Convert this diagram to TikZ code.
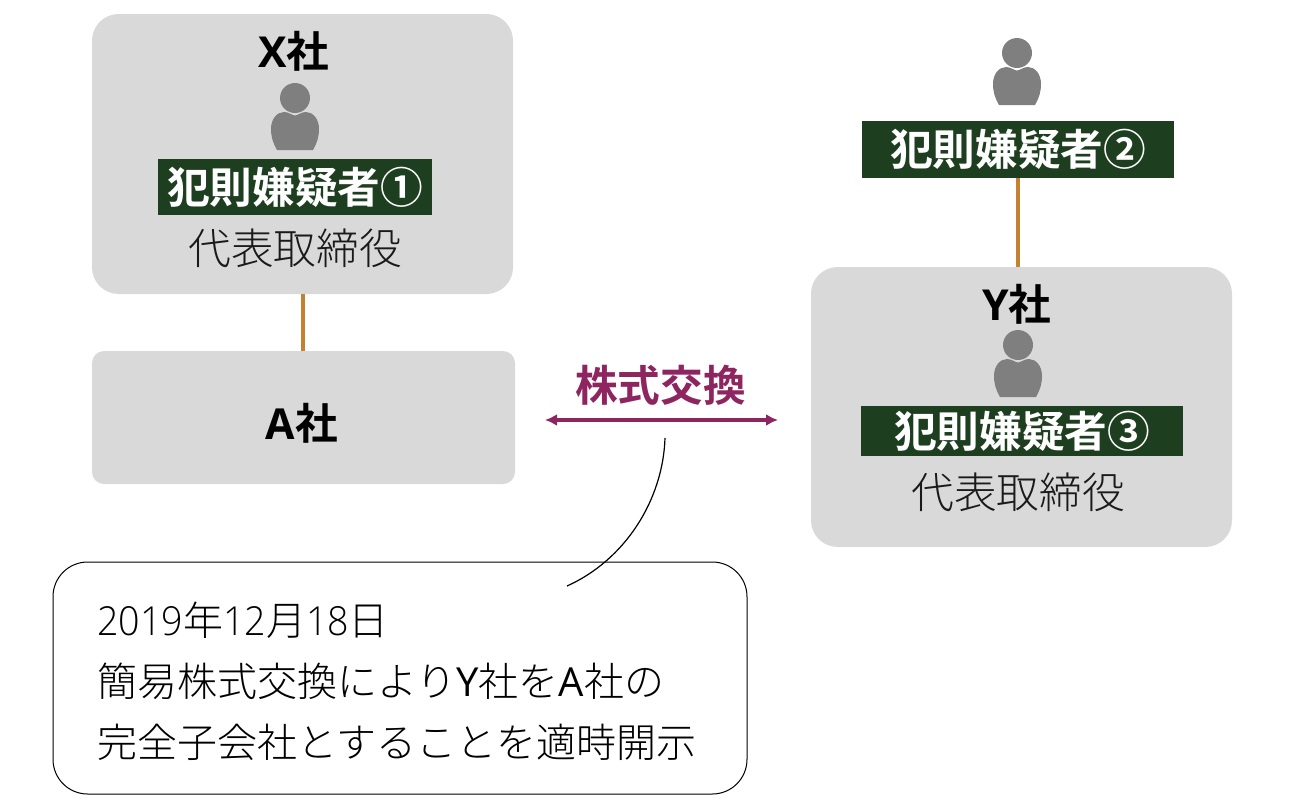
\documentclass[tikz,border=0pt]{standalone}
\usepackage{fontspec}
\setmainfont{Open Sans}
\newfontfamily\numfont[FakeStretch=0.94]{Open Sans Light}
\newfontfamily\jpfont[BoldFont={Noto Sans CJK JP Bold}]{Noto Sans CJK JP Light}
\usetikzlibrary{arrows.meta}
\definecolor{boxgray}{RGB}{217,217,217}
\definecolor{iconGray}{RGB}{127,127,127}
\definecolor{suspectGreen}{RGB}{30,62,32}
\definecolor{linkOrange}{RGB}{197,128,48}
\definecolor{swapPurple}{RGB}{143,37,96}
\definecolor{thinText}{RGB}{26,26,26}
\tikzset{
  graybox/.style={fill=boxgray,inner sep=0pt,outer sep=0pt,rounded corners=20pt,minimum width=315.75pt,minimum height=210pt},
  firmlabel/.style={inner sep=0pt,font=\bfseries\fontsize{32}{36}\selectfont,text=black},
  suspect/.style={fill=suspectGreen,text=white,inner sep=0pt,outer sep=0pt,font=\jpfont\bfseries\fontsize{32}{36}\selectfont},
  roletext/.style={inner sep=0pt,text=thinText,font=\jpfont\fontsize{32}{36}\selectfont},
  notetext/.style={inner sep=0pt,anchor=west,text=black,font=\numfont\fontsize{30}{36}\selectfont},
  orangelink/.style={draw=linkOrange,line width=3pt},
  personicon/.pic={
    \fill[iconGray] (0,1) circle [radius=15];
    \fill[iconGray] (-18,-51) -- (18,-51) .. controls (22,-44) and (24,-38) .. (24,-30) .. controls (24,-20) and (18,-13) .. (11,-13) .. controls (6,-13) and (3,-16.5) .. (0,-16.5) .. controls (-3,-16.5) and (-6,-13) .. (-11,-13) .. controls (-18,-13) and (-24,-20) .. (-24,-30) .. controls (-24,-38) and (-22,-44) .. (-18,-51) -- cycle;
  }
}
\begin{document}
\begin{tikzpicture}[x=0.75pt,y=0.75pt,yscale=-1,xscale=1]
  \useasboundingbox (0,0) rectangle (1300,800);
  % company boxes
  \node[graybox] (xbox) at (302.5,154) {};
  \node[graybox,rounded corners=9pt,minimum width=317.25pt,minimum height=99.75pt] (abox) at (303.5,417.5) {};
  \node[graybox] (ybox) at (1021.5,407) {};
  % links
  \draw[orangelink] (xbox.south) -- (xbox.south |- abox.north);
  % X side
  \node[firmlabel] (xname) at (294,51) {X{\jpfont 社}};
  \pic at (295,99) {personicon};
  \node[suspect,minimum width=205.5pt,minimum height=42pt] (suspecta) at (295,187) {犯則嫌疑者①};
  \node[roletext] (xrole) at (295,248) {代表取締役};
  \node[firmlabel] (aname) at (302,423) {A{\jpfont 社}};
  % Y side
  \pic at (1017,54) {personicon};
  \node[suspect,minimum width=234pt,minimum height=42.75pt] (suspectb) at (1018,149.5) {犯則嫌疑者②};
  \draw[orangelink] (suspectb.south) -- (suspectb.south |- ybox.north);
  \node[firmlabel] (yname) at (1017,304) {Y{\jpfont 社}};
  \pic at (1018,346) {personicon};
  \node[suspect,minimum width=241.5pt,minimum height=37.5pt] (suspectc) at (1022,431) {犯則嫌疑者③};
  \node[roletext] (yrole) at (1018,492) {代表取締役};
  % share exchange
  \coordinate (swapl) at (545,420);
  \coordinate (swapr) at (778,420);
  \draw[swapPurple,line width=3pt,{Latex[length=9pt,width=9pt]}-{Latex[length=9pt,width=9pt]}] (swapl) -- (swapr);
  \node[inner sep=0pt,text=swapPurple,font=\jpfont\bfseries\fontsize{32}{36}\selectfont] (swaplabel) at (660.5,385) {株式交換};
  % note
  \node[draw=black,line width=0.75pt,inner sep=0pt,rounded corners=26pt,minimum width=520.5pt,minimum height=174pt] (notebox) at (400,678) {};
  \coordinate (notetip) at (567,586);
  \coordinate (swaptip) at (665,438);
  \draw[line width=0.9pt] (swaptip) .. controls (663,500) and (625,560) .. (notetip);
  \node[notetext] (noteone) at (97,620) {2019{\jpfont 年}12{\jpfont 月}18{\jpfont 日}};
  \node[notetext] (notetwo) at (97,681) {{\jpfont 簡易株式交換により}{\rmfamily Y}{\jpfont 社を}{\rmfamily A}{\jpfont 社の}};
  \node[notetext] (notethree) at (97,742) {\jpfont 完全子会社とすることを適時開示};
\end{tikzpicture}
\end{document}
